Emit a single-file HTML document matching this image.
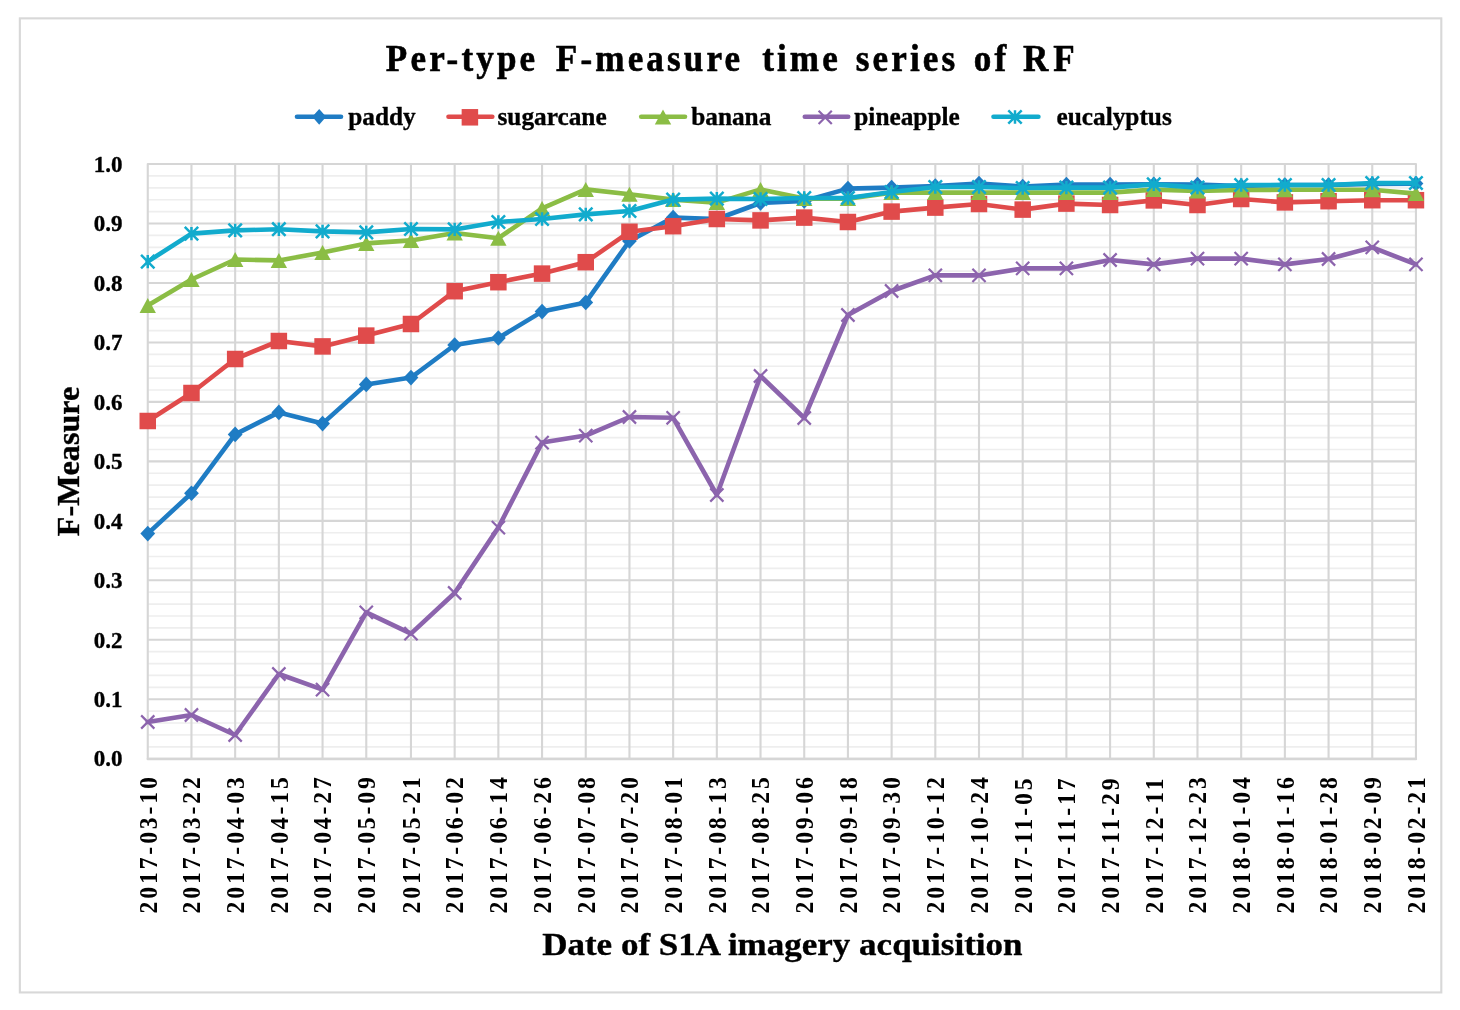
<!DOCTYPE html>
<html><head><meta charset="utf-8"><title>Per-type F-measure time series of RF</title>
<style>
html,body{margin:0;padding:0;background:#fff;}
body{width:1460px;height:1010px;overflow:hidden;}
svg{display:block;filter:blur(0.45px);}
text{font-family:"Liberation Serif",serif;font-weight:bold;fill:#000;stroke:#000;stroke-width:0.35px;stroke-linejoin:round;}
text.tt{stroke-width:0.55px;}
text.xl{stroke-width:0;stroke:none;}

</style></head><body>
<svg width="1460" height="1010" viewBox="0 0 1460 1010">
<rect x="0" y="0" width="1460" height="1010" fill="#fff"/>
<rect x="19.85" y="18.35" width="1421.45" height="974.1" fill="#fff" stroke="#d8d8d8" stroke-width="2.1"/>
<path d="M147.76 746.81H1415.96M147.76 734.91H1415.96M147.76 723.02H1415.96M147.76 711.13H1415.96M147.76 687.34H1415.96M147.76 675.45H1415.96M147.76 663.56H1415.96M147.76 651.66H1415.96M147.76 627.88H1415.96M147.76 615.98H1415.96M147.76 604.09H1415.96M147.76 592.2H1415.96M147.76 568.41H1415.96M147.76 556.52H1415.96M147.76 544.63H1415.96M147.76 532.73H1415.96M147.76 508.95H1415.96M147.76 497.05H1415.96M147.76 485.16H1415.96M147.76 473.27H1415.96M147.76 449.48H1415.96M147.76 437.59H1415.96M147.76 425.7H1415.96M147.76 413.8H1415.96M147.76 390.02H1415.96M147.76 378.12H1415.96M147.76 366.23H1415.96M147.76 354.34H1415.96M147.76 330.55H1415.96M147.76 318.66H1415.96M147.76 306.77H1415.96M147.76 294.87H1415.96M147.76 271.09H1415.96M147.76 259.19H1415.96M147.76 247.3H1415.96M147.76 235.41H1415.96M147.76 211.62H1415.96M147.76 199.73H1415.96M147.76 187.84H1415.96M147.76 175.94H1415.96" stroke="#eeeeee" stroke-width="1.7" fill="none"/>
<path d="M147.76 758.7H1415.96M147.76 699.24H1415.96M147.76 639.77H1415.96M147.76 580.31H1415.96M147.76 520.84H1415.96M147.76 461.38H1415.96M147.76 401.91H1415.96M147.76 342.44H1415.96M147.76 282.98H1415.96M147.76 223.51H1415.96M147.76 164.05H1415.96M147.76 164.05V758.7M191.46 164.05V758.7M235.16 164.05V758.7M278.86 164.05V758.7M322.56 164.05V758.7M366.26 164.05V758.7M410.97 164.05V758.7M454.67 164.05V758.7M498.36 164.05V758.7M542.06 164.05V758.7M585.75 164.05V758.7M629.45 164.05V758.7M673.14 164.05V758.7M716.84 164.05V758.7M760.53 164.05V758.7M804.23 164.05V758.7M847.92 164.05V758.7M891.62 164.05V758.7M935.31 164.05V758.7M979 164.05V758.7M1022.7 164.05V758.7M1066.39 164.05V758.7M1110.09 164.05V758.7M1153.79 164.05V758.7M1197.48 164.05V758.7M1241.18 164.05V758.7M1284.87 164.05V758.7M1328.57 164.05V758.7M1372.26 164.05V758.7M1415.95 164.05V758.7" stroke="#d6d6d6" stroke-width="2.1" fill="none" stroke-linecap="round"/>
<path d="M147.76 758.95H1415.96" stroke="#d6d6d6" stroke-width="2.4" stroke-linecap="round" fill="none"/>
<polyline points="147.76,533.6 191.46,493.2 235.16,434.4 278.86,412.4 322.56,423.6 366.26,384.4 410.97,377.6 454.67,345 498.36,338 542.06,311.6 585.75,302.4 629.45,241 673.14,217.6 716.84,219 760.53,203 804.23,201 847.92,188.6 891.62,187.6 935.31,186 979,183.6 1022.7,186.6 1066.39,184.6 1110.09,184.6 1153.79,184.4 1197.48,184.6 1241.18,186 1284.87,185 1328.57,185 1372.26,184 1415.95,183.6" fill="none" stroke="#1f7cc4" stroke-width="4.6" stroke-linejoin="round" stroke-linecap="round"/>
<path d="M147.76 525.8L155.16 533.6L147.76 541.4L140.36 533.6Z" fill="#1f7cc4"/><path d="M191.46 485.4L198.86 493.2L191.46 501L184.06 493.2Z" fill="#1f7cc4"/><path d="M235.16 426.6L242.56 434.4L235.16 442.2L227.76 434.4Z" fill="#1f7cc4"/><path d="M278.86 404.6L286.26 412.4L278.86 420.2L271.46 412.4Z" fill="#1f7cc4"/><path d="M322.56 415.8L329.96 423.6L322.56 431.4L315.16 423.6Z" fill="#1f7cc4"/><path d="M366.26 376.6L373.66 384.4L366.26 392.2L358.86 384.4Z" fill="#1f7cc4"/><path d="M410.97 369.8L418.37 377.6L410.97 385.4L403.57 377.6Z" fill="#1f7cc4"/><path d="M454.67 337.2L462.06 345L454.67 352.8L447.27 345Z" fill="#1f7cc4"/><path d="M498.36 330.2L505.76 338L498.36 345.8L490.96 338Z" fill="#1f7cc4"/><path d="M542.06 303.8L549.46 311.6L542.06 319.4L534.66 311.6Z" fill="#1f7cc4"/><path d="M585.75 294.6L593.15 302.4L585.75 310.2L578.35 302.4Z" fill="#1f7cc4"/><path d="M629.45 233.2L636.85 241L629.45 248.8L622.05 241Z" fill="#1f7cc4"/><path d="M673.14 209.8L680.54 217.6L673.14 225.4L665.74 217.6Z" fill="#1f7cc4"/><path d="M716.84 211.2L724.24 219L716.84 226.8L709.44 219Z" fill="#1f7cc4"/><path d="M760.53 195.2L767.93 203L760.53 210.8L753.13 203Z" fill="#1f7cc4"/><path d="M804.23 193.2L811.62 201L804.23 208.8L796.83 201Z" fill="#1f7cc4"/><path d="M847.92 180.8L855.32 188.6L847.92 196.4L840.52 188.6Z" fill="#1f7cc4"/><path d="M891.62 179.8L899.01 187.6L891.62 195.4L884.22 187.6Z" fill="#1f7cc4"/><path d="M935.31 178.2L942.71 186L935.31 193.8L927.91 186Z" fill="#1f7cc4"/><path d="M979 175.8L986.4 183.6L979 191.4L971.61 183.6Z" fill="#1f7cc4"/><path d="M1022.7 178.8L1030.1 186.6L1022.7 194.4L1015.3 186.6Z" fill="#1f7cc4"/><path d="M1066.39 176.8L1073.8 184.6L1066.39 192.4L1058.99 184.6Z" fill="#1f7cc4"/><path d="M1110.09 176.8L1117.49 184.6L1110.09 192.4L1102.69 184.6Z" fill="#1f7cc4"/><path d="M1153.79 176.6L1161.19 184.4L1153.79 192.2L1146.38 184.4Z" fill="#1f7cc4"/><path d="M1197.48 176.8L1204.88 184.6L1197.48 192.4L1190.08 184.6Z" fill="#1f7cc4"/><path d="M1241.18 178.2L1248.58 186L1241.18 193.8L1233.78 186Z" fill="#1f7cc4"/><path d="M1284.87 177.2L1292.27 185L1284.87 192.8L1277.47 185Z" fill="#1f7cc4"/><path d="M1328.57 177.2L1335.97 185L1328.57 192.8L1321.16 185Z" fill="#1f7cc4"/><path d="M1372.26 176.2L1379.66 184L1372.26 191.8L1364.86 184Z" fill="#1f7cc4"/><path d="M1415.95 175.8L1423.36 183.6L1415.95 191.4L1408.55 183.6Z" fill="#1f7cc4"/>
<polyline points="147.76,421 191.46,393 235.16,359 278.86,341 322.56,346.4 366.26,335.6 410.97,324 454.67,291.2 498.36,282.2 542.06,273.6 585.75,262.2 629.45,231.8 673.14,226.2 716.84,219 760.53,220.4 804.23,217.6 847.92,222 891.62,211.6 935.31,207.6 979,204 1022.7,209.6 1066.39,203.6 1110.09,205 1153.79,200.4 1197.48,205 1241.18,199 1284.87,202.4 1328.57,201.2 1372.26,200.2 1415.95,200.2" fill="none" stroke="#e04b4b" stroke-width="4.6" stroke-linejoin="round" stroke-linecap="round"/>
<rect x="139.51" y="412.75" width="16.5" height="16.5" fill="#e04b4b"/><rect x="183.21" y="384.75" width="16.5" height="16.5" fill="#e04b4b"/><rect x="226.91" y="350.75" width="16.5" height="16.5" fill="#e04b4b"/><rect x="270.61" y="332.75" width="16.5" height="16.5" fill="#e04b4b"/><rect x="314.31" y="338.15" width="16.5" height="16.5" fill="#e04b4b"/><rect x="358.01" y="327.35" width="16.5" height="16.5" fill="#e04b4b"/><rect x="402.72" y="315.75" width="16.5" height="16.5" fill="#e04b4b"/><rect x="446.42" y="282.95" width="16.5" height="16.5" fill="#e04b4b"/><rect x="490.11" y="273.95" width="16.5" height="16.5" fill="#e04b4b"/><rect x="533.81" y="265.35" width="16.5" height="16.5" fill="#e04b4b"/><rect x="577.5" y="253.95" width="16.5" height="16.5" fill="#e04b4b"/><rect x="621.2" y="223.55" width="16.5" height="16.5" fill="#e04b4b"/><rect x="664.89" y="217.95" width="16.5" height="16.5" fill="#e04b4b"/><rect x="708.59" y="210.75" width="16.5" height="16.5" fill="#e04b4b"/><rect x="752.28" y="212.15" width="16.5" height="16.5" fill="#e04b4b"/><rect x="795.98" y="209.35" width="16.5" height="16.5" fill="#e04b4b"/><rect x="839.67" y="213.75" width="16.5" height="16.5" fill="#e04b4b"/><rect x="883.37" y="203.35" width="16.5" height="16.5" fill="#e04b4b"/><rect x="927.06" y="199.35" width="16.5" height="16.5" fill="#e04b4b"/><rect x="970.75" y="195.75" width="16.5" height="16.5" fill="#e04b4b"/><rect x="1014.45" y="201.35" width="16.5" height="16.5" fill="#e04b4b"/><rect x="1058.14" y="195.35" width="16.5" height="16.5" fill="#e04b4b"/><rect x="1101.84" y="196.75" width="16.5" height="16.5" fill="#e04b4b"/><rect x="1145.54" y="192.15" width="16.5" height="16.5" fill="#e04b4b"/><rect x="1189.23" y="196.75" width="16.5" height="16.5" fill="#e04b4b"/><rect x="1232.93" y="190.75" width="16.5" height="16.5" fill="#e04b4b"/><rect x="1276.62" y="194.15" width="16.5" height="16.5" fill="#e04b4b"/><rect x="1320.32" y="192.95" width="16.5" height="16.5" fill="#e04b4b"/><rect x="1364.01" y="191.95" width="16.5" height="16.5" fill="#e04b4b"/><rect x="1407.7" y="191.95" width="16.5" height="16.5" fill="#e04b4b"/>
<polyline points="147.76,305.5 191.46,279.5 235.16,259.5 278.86,260.4 322.56,252.6 366.26,243.4 410.97,240.4 454.67,233 498.36,238.2 542.06,208.4 585.75,189.4 629.45,194.2 673.14,199.6 716.84,202.6 760.53,189.4 804.23,198.6 847.92,198.6 891.62,192.6 935.31,192.6 979,192.6 1022.7,192.6 1066.39,192.6 1110.09,192.6 1153.79,189.6 1197.48,191 1241.18,190 1284.87,189.8 1328.57,189.8 1372.26,189.8 1415.95,193.6" fill="none" stroke="#8bbd45" stroke-width="4.6" stroke-linejoin="round" stroke-linecap="round"/>
<path d="M147.76 298L155.96 313L139.56 313Z" fill="#8bbd45"/><path d="M191.46 272L199.66 287L183.26 287Z" fill="#8bbd45"/><path d="M235.16 252L243.36 267L226.96 267Z" fill="#8bbd45"/><path d="M278.86 252.9L287.06 267.9L270.66 267.9Z" fill="#8bbd45"/><path d="M322.56 245.1L330.76 260.1L314.36 260.1Z" fill="#8bbd45"/><path d="M366.26 235.9L374.46 250.9L358.06 250.9Z" fill="#8bbd45"/><path d="M410.97 232.9L419.17 247.9L402.77 247.9Z" fill="#8bbd45"/><path d="M454.67 225.5L462.87 240.5L446.47 240.5Z" fill="#8bbd45"/><path d="M498.36 230.7L506.56 245.7L490.16 245.7Z" fill="#8bbd45"/><path d="M542.06 200.9L550.26 215.9L533.86 215.9Z" fill="#8bbd45"/><path d="M585.75 181.9L593.95 196.9L577.55 196.9Z" fill="#8bbd45"/><path d="M629.45 186.7L637.65 201.7L621.25 201.7Z" fill="#8bbd45"/><path d="M673.14 192.1L681.34 207.1L664.94 207.1Z" fill="#8bbd45"/><path d="M716.84 195.1L725.04 210.1L708.63 210.1Z" fill="#8bbd45"/><path d="M760.53 181.9L768.73 196.9L752.33 196.9Z" fill="#8bbd45"/><path d="M804.23 191.1L812.43 206.1L796.02 206.1Z" fill="#8bbd45"/><path d="M847.92 191.1L856.12 206.1L839.72 206.1Z" fill="#8bbd45"/><path d="M891.62 185.1L899.82 200.1L883.41 200.1Z" fill="#8bbd45"/><path d="M935.31 185.1L943.51 200.1L927.11 200.1Z" fill="#8bbd45"/><path d="M979 185.1L987.21 200.1L970.8 200.1Z" fill="#8bbd45"/><path d="M1022.7 185.1L1030.9 200.1L1014.5 200.1Z" fill="#8bbd45"/><path d="M1066.39 185.1L1074.6 200.1L1058.19 200.1Z" fill="#8bbd45"/><path d="M1110.09 185.1L1118.29 200.1L1101.89 200.1Z" fill="#8bbd45"/><path d="M1153.79 182.1L1161.99 197.1L1145.59 197.1Z" fill="#8bbd45"/><path d="M1197.48 183.5L1205.68 198.5L1189.28 198.5Z" fill="#8bbd45"/><path d="M1241.18 182.5L1249.38 197.5L1232.98 197.5Z" fill="#8bbd45"/><path d="M1284.87 182.3L1293.07 197.3L1276.67 197.3Z" fill="#8bbd45"/><path d="M1328.57 182.3L1336.77 197.3L1320.37 197.3Z" fill="#8bbd45"/><path d="M1372.26 182.3L1380.46 197.3L1364.06 197.3Z" fill="#8bbd45"/><path d="M1415.95 186.1L1424.15 201.1L1407.75 201.1Z" fill="#8bbd45"/>
<polyline points="147.76,722 191.46,715 235.16,735 278.86,674 322.56,689.6 366.26,612.4 410.97,633.6 454.67,593 498.36,527.6 542.06,442.6 585.75,435.6 629.45,417 673.14,417.8 716.84,495 760.53,376 804.23,418 847.92,315 891.62,291 935.31,275.4 979,275.4 1022.7,268.4 1066.39,268.4 1110.09,260 1153.79,264.4 1197.48,258.6 1241.18,258.6 1284.87,264.4 1328.57,259 1372.26,247.4 1415.95,264.4" fill="none" stroke="#8c64ad" stroke-width="4.6" stroke-linejoin="round" stroke-linecap="round"/>
<path d="M141.16 715.4L154.36 728.6M141.16 728.6L154.36 715.4" stroke="#8c64ad" stroke-width="2.2" fill="none"/><path d="M184.86 708.4L198.06 721.6M184.86 721.6L198.06 708.4" stroke="#8c64ad" stroke-width="2.2" fill="none"/><path d="M228.56 728.4L241.76 741.6M228.56 741.6L241.76 728.4" stroke="#8c64ad" stroke-width="2.2" fill="none"/><path d="M272.26 667.4L285.46 680.6M272.26 680.6L285.46 667.4" stroke="#8c64ad" stroke-width="2.2" fill="none"/><path d="M315.96 683L329.16 696.2M315.96 696.2L329.16 683" stroke="#8c64ad" stroke-width="2.2" fill="none"/><path d="M359.66 605.8L372.86 619M359.66 619L372.86 605.8" stroke="#8c64ad" stroke-width="2.2" fill="none"/><path d="M404.37 627L417.57 640.2M404.37 640.2L417.57 627" stroke="#8c64ad" stroke-width="2.2" fill="none"/><path d="M448.06 586.4L461.27 599.6M448.06 599.6L461.27 586.4" stroke="#8c64ad" stroke-width="2.2" fill="none"/><path d="M491.76 521L504.96 534.2M491.76 534.2L504.96 521" stroke="#8c64ad" stroke-width="2.2" fill="none"/><path d="M535.46 436L548.66 449.2M535.46 449.2L548.66 436" stroke="#8c64ad" stroke-width="2.2" fill="none"/><path d="M579.15 429L592.35 442.2M579.15 442.2L592.35 429" stroke="#8c64ad" stroke-width="2.2" fill="none"/><path d="M622.85 410.4L636.05 423.6M622.85 423.6L636.05 410.4" stroke="#8c64ad" stroke-width="2.2" fill="none"/><path d="M666.54 411.2L679.74 424.4M666.54 424.4L679.74 411.2" stroke="#8c64ad" stroke-width="2.2" fill="none"/><path d="M710.24 488.4L723.44 501.6M710.24 501.6L723.44 488.4" stroke="#8c64ad" stroke-width="2.2" fill="none"/><path d="M753.93 369.4L767.13 382.6M753.93 382.6L767.13 369.4" stroke="#8c64ad" stroke-width="2.2" fill="none"/><path d="M797.62 411.4L810.83 424.6M797.62 424.6L810.83 411.4" stroke="#8c64ad" stroke-width="2.2" fill="none"/><path d="M841.32 308.4L854.52 321.6M841.32 321.6L854.52 308.4" stroke="#8c64ad" stroke-width="2.2" fill="none"/><path d="M885.01 284.4L898.22 297.6M885.01 297.6L898.22 284.4" stroke="#8c64ad" stroke-width="2.2" fill="none"/><path d="M928.71 268.8L941.91 282M928.71 282L941.91 268.8" stroke="#8c64ad" stroke-width="2.2" fill="none"/><path d="M972.4 268.8L985.61 282M972.4 282L985.61 268.8" stroke="#8c64ad" stroke-width="2.2" fill="none"/><path d="M1016.1 261.8L1029.3 275M1016.1 275L1029.3 261.8" stroke="#8c64ad" stroke-width="2.2" fill="none"/><path d="M1059.8 261.8L1072.99 275M1059.8 275L1072.99 261.8" stroke="#8c64ad" stroke-width="2.2" fill="none"/><path d="M1103.49 253.4L1116.69 266.6M1103.49 266.6L1116.69 253.4" stroke="#8c64ad" stroke-width="2.2" fill="none"/><path d="M1147.19 257.8L1160.38 271M1147.19 271L1160.38 257.8" stroke="#8c64ad" stroke-width="2.2" fill="none"/><path d="M1190.88 252L1204.08 265.2M1190.88 265.2L1204.08 252" stroke="#8c64ad" stroke-width="2.2" fill="none"/><path d="M1234.58 252L1247.78 265.2M1234.58 265.2L1247.78 252" stroke="#8c64ad" stroke-width="2.2" fill="none"/><path d="M1278.27 257.8L1291.47 271M1278.27 271L1291.47 257.8" stroke="#8c64ad" stroke-width="2.2" fill="none"/><path d="M1321.97 252.4L1335.16 265.6M1321.97 265.6L1335.16 252.4" stroke="#8c64ad" stroke-width="2.2" fill="none"/><path d="M1365.66 240.8L1378.86 254M1365.66 254L1378.86 240.8" stroke="#8c64ad" stroke-width="2.2" fill="none"/><path d="M1409.36 257.8L1422.55 271M1409.36 271L1422.55 257.8" stroke="#8c64ad" stroke-width="2.2" fill="none"/>
<polyline points="147.76,261.6 191.46,233.6 235.16,230.4 278.86,229.2 322.56,231.4 366.26,232.4 410.97,229 454.67,229.4 498.36,222 542.06,219 585.75,214.4 629.45,211 673.14,199.6 716.84,198.6 760.53,199 804.23,198 847.92,198 891.62,192 935.31,187 979,187 1022.7,188 1066.39,187.6 1110.09,187.6 1153.79,184.4 1197.48,187.6 1241.18,185 1284.87,185 1328.57,185 1372.26,183 1415.95,183" fill="none" stroke="#12abcd" stroke-width="4.6" stroke-linejoin="round" stroke-linecap="round"/>
<path d="M141.06 254.9L154.46 268.3M141.06 268.3L154.46 254.9M147.76 254.9L147.76 268.3" stroke="#12abcd" stroke-width="2.5" fill="none"/><path d="M184.76 226.9L198.16 240.3M184.76 240.3L198.16 226.9M191.46 226.9L191.46 240.3" stroke="#12abcd" stroke-width="2.5" fill="none"/><path d="M228.46 223.7L241.86 237.1M228.46 237.1L241.86 223.7M235.16 223.7L235.16 237.1" stroke="#12abcd" stroke-width="2.5" fill="none"/><path d="M272.16 222.5L285.56 235.9M272.16 235.9L285.56 222.5M278.86 222.5L278.86 235.9" stroke="#12abcd" stroke-width="2.5" fill="none"/><path d="M315.86 224.7L329.26 238.1M315.86 238.1L329.26 224.7M322.56 224.7L322.56 238.1" stroke="#12abcd" stroke-width="2.5" fill="none"/><path d="M359.56 225.7L372.96 239.1M359.56 239.1L372.96 225.7M366.26 225.7L366.26 239.1" stroke="#12abcd" stroke-width="2.5" fill="none"/><path d="M404.27 222.3L417.67 235.7M404.27 235.7L417.67 222.3M410.97 222.3L410.97 235.7" stroke="#12abcd" stroke-width="2.5" fill="none"/><path d="M447.97 222.7L461.37 236.1M447.97 236.1L461.37 222.7M454.67 222.7L454.67 236.1" stroke="#12abcd" stroke-width="2.5" fill="none"/><path d="M491.66 215.3L505.06 228.7M491.66 228.7L505.06 215.3M498.36 215.3L498.36 228.7" stroke="#12abcd" stroke-width="2.5" fill="none"/><path d="M535.36 212.3L548.76 225.7M535.36 225.7L548.76 212.3M542.06 212.3L542.06 225.7" stroke="#12abcd" stroke-width="2.5" fill="none"/><path d="M579.05 207.7L592.45 221.1M579.05 221.1L592.45 207.7M585.75 207.7L585.75 221.1" stroke="#12abcd" stroke-width="2.5" fill="none"/><path d="M622.75 204.3L636.15 217.7M622.75 217.7L636.15 204.3M629.45 204.3L629.45 217.7" stroke="#12abcd" stroke-width="2.5" fill="none"/><path d="M666.44 192.9L679.84 206.3M666.44 206.3L679.84 192.9M673.14 192.9L673.14 206.3" stroke="#12abcd" stroke-width="2.5" fill="none"/><path d="M710.13 191.9L723.54 205.3M710.13 205.3L723.54 191.9M716.84 191.9L716.84 205.3" stroke="#12abcd" stroke-width="2.5" fill="none"/><path d="M753.83 192.3L767.23 205.7M753.83 205.7L767.23 192.3M760.53 192.3L760.53 205.7" stroke="#12abcd" stroke-width="2.5" fill="none"/><path d="M797.52 191.3L810.93 204.7M797.52 204.7L810.93 191.3M804.23 191.3L804.23 204.7" stroke="#12abcd" stroke-width="2.5" fill="none"/><path d="M841.22 191.3L854.62 204.7M841.22 204.7L854.62 191.3M847.92 191.3L847.92 204.7" stroke="#12abcd" stroke-width="2.5" fill="none"/><path d="M884.91 185.3L898.32 198.7M884.91 198.7L898.32 185.3M891.62 185.3L891.62 198.7" stroke="#12abcd" stroke-width="2.5" fill="none"/><path d="M928.61 180.3L942.01 193.7M928.61 193.7L942.01 180.3M935.31 180.3L935.31 193.7" stroke="#12abcd" stroke-width="2.5" fill="none"/><path d="M972.3 180.3L985.71 193.7M972.3 193.7L985.71 180.3M979 180.3L979 193.7" stroke="#12abcd" stroke-width="2.5" fill="none"/><path d="M1016 181.3L1029.4 194.7M1016 194.7L1029.4 181.3M1022.7 181.3L1022.7 194.7" stroke="#12abcd" stroke-width="2.5" fill="none"/><path d="M1059.69 180.9L1073.1 194.3M1059.69 194.3L1073.1 180.9M1066.39 180.9L1066.39 194.3" stroke="#12abcd" stroke-width="2.5" fill="none"/><path d="M1103.39 180.9L1116.79 194.3M1103.39 194.3L1116.79 180.9M1110.09 180.9L1110.09 194.3" stroke="#12abcd" stroke-width="2.5" fill="none"/><path d="M1147.09 177.7L1160.49 191.1M1147.09 191.1L1160.49 177.7M1153.79 177.7L1153.79 191.1" stroke="#12abcd" stroke-width="2.5" fill="none"/><path d="M1190.78 180.9L1204.18 194.3M1190.78 194.3L1204.18 180.9M1197.48 180.9L1197.48 194.3" stroke="#12abcd" stroke-width="2.5" fill="none"/><path d="M1234.48 178.3L1247.88 191.7M1234.48 191.7L1247.88 178.3M1241.18 178.3L1241.18 191.7" stroke="#12abcd" stroke-width="2.5" fill="none"/><path d="M1278.17 178.3L1291.57 191.7M1278.17 191.7L1291.57 178.3M1284.87 178.3L1284.87 191.7" stroke="#12abcd" stroke-width="2.5" fill="none"/><path d="M1321.87 178.3L1335.27 191.7M1321.87 191.7L1335.27 178.3M1328.57 178.3L1328.57 191.7" stroke="#12abcd" stroke-width="2.5" fill="none"/><path d="M1365.56 176.3L1378.96 189.7M1365.56 189.7L1378.96 176.3M1372.26 176.3L1372.26 189.7" stroke="#12abcd" stroke-width="2.5" fill="none"/><path d="M1409.25 176.3L1422.65 189.7M1409.25 189.7L1422.65 176.3M1415.95 176.3L1415.95 189.7" stroke="#12abcd" stroke-width="2.5" fill="none"/>
<text transform="translate(385.85 70.8) scale(1.012 1.10)" font-size="34.7" letter-spacing="3.1" class="tt">Per-type</text><text transform="translate(555.85 70.8) scale(1.012 1.10)" font-size="34.7" letter-spacing="3.1" class="tt">F-measure</text><text transform="translate(762.15 70.8) scale(1.012 1.10)" font-size="34.7" letter-spacing="3.1" class="tt">time</text><text transform="translate(855.7 70.8) scale(1.012 1.10)" font-size="34.7" letter-spacing="3.1" class="tt">series</text><text transform="translate(973.8 70.8) scale(1.012 1.10)" font-size="34.7" letter-spacing="3.1" class="tt">of</text><text transform="translate(1022.95 70.8) scale(1.012 1.10)" font-size="34.7" letter-spacing="5.0" class="tt">RF</text>
<line x1="297" y1="116.8" x2="341" y2="116.8" stroke="#1f7cc4" stroke-width="4.6" stroke-linecap="round"/><path d="M319.2 108.9L326.1 116.8L319.2 124.7L312.3 116.8Z" fill="#1f7cc4"/><line x1="448.5" y1="116.8" x2="492.3" y2="116.8" stroke="#e04b4b" stroke-width="4.6" stroke-linecap="round"/><rect x="461.65" y="109.05" width="16.5" height="16.5" fill="#e04b4b"/><line x1="641.2" y1="116.8" x2="685" y2="116.8" stroke="#8bbd45" stroke-width="4.6" stroke-linecap="round"/><path d="M663 109.5L671.2 124.5L654.8 124.5Z" fill="#8bbd45"/><line x1="804.8" y1="116.8" x2="848.2" y2="116.8" stroke="#8c64ad" stroke-width="4.6" stroke-linecap="round"/><path d="M818.6 110.8L831.8 124M818.6 124L831.8 110.8" stroke="#8c64ad" stroke-width="2.2" fill="none"/><line x1="993.5" y1="116.8" x2="1038.4" y2="116.8" stroke="#12abcd" stroke-width="4.6" stroke-linecap="round"/><path d="M1008.3 110.3L1021.7 123.7M1008.3 123.7L1021.7 110.3M1015 110.3L1015 123.7" stroke="#12abcd" stroke-width="2.5" fill="none"/><text x="348.2" y="125.0" font-size="25.3" id="l1">paddy</text><text x="497.5" y="125.0" font-size="25.3" id="l2">sugarcane</text><text x="691.2" y="125.0" font-size="25.3" id="l3">banana</text><text x="854.3" y="125.0" font-size="25.3" id="l4">pineapple</text><text x="1056.5" y="125.0" font-size="25.3" id="l5">eucalyptus</text>
<text x="122.6" y="766.45" font-size="23" text-anchor="end" class="yl">0.0</text><text x="122.6" y="706.99" font-size="23" text-anchor="end" class="yl">0.1</text><text x="122.6" y="647.52" font-size="23" text-anchor="end" class="yl">0.2</text><text x="122.6" y="588.06" font-size="23" text-anchor="end" class="yl">0.3</text><text x="122.6" y="528.59" font-size="23" text-anchor="end" class="yl">0.4</text><text x="122.6" y="469.12" font-size="23" text-anchor="end" class="yl">0.5</text><text x="122.6" y="409.66" font-size="23" text-anchor="end" class="yl">0.6</text><text x="122.6" y="350.19" font-size="23" text-anchor="end" class="yl">0.7</text><text x="122.6" y="290.73" font-size="23" text-anchor="end" class="yl">0.8</text><text x="122.6" y="231.26" font-size="23" text-anchor="end" class="yl">0.9</text><text x="122.6" y="171.8" font-size="23" text-anchor="end" class="yl">1.0</text>
<text transform="translate(156.56 913.5) rotate(-90) scale(0.95 1)" font-size="24.9" letter-spacing="3.05" class="xl">2017-03-10</text><text transform="translate(200.26 913.5) rotate(-90) scale(0.95 1)" font-size="24.9" letter-spacing="3.05" class="xl">2017-03-22</text><text transform="translate(243.96 913.5) rotate(-90) scale(0.95 1)" font-size="24.9" letter-spacing="3.05" class="xl">2017-04-03</text><text transform="translate(287.66 913.5) rotate(-90) scale(0.95 1)" font-size="24.9" letter-spacing="3.05" class="xl">2017-04-15</text><text transform="translate(331.36 913.5) rotate(-90) scale(0.95 1)" font-size="24.9" letter-spacing="3.05" class="xl">2017-04-27</text><text transform="translate(375.06 913.5) rotate(-90) scale(0.95 1)" font-size="24.9" letter-spacing="3.05" class="xl">2017-05-09</text><text transform="translate(419.77 913.5) rotate(-90) scale(0.95 1)" font-size="24.9" letter-spacing="3.05" class="xl">2017-05-21</text><text transform="translate(463.47 913.5) rotate(-90) scale(0.95 1)" font-size="24.9" letter-spacing="3.05" class="xl">2017-06-02</text><text transform="translate(507.16 913.5) rotate(-90) scale(0.95 1)" font-size="24.9" letter-spacing="3.05" class="xl">2017-06-14</text><text transform="translate(550.86 913.5) rotate(-90) scale(0.95 1)" font-size="24.9" letter-spacing="3.05" class="xl">2017-06-26</text><text transform="translate(594.55 913.5) rotate(-90) scale(0.95 1)" font-size="24.9" letter-spacing="3.05" class="xl">2017-07-08</text><text transform="translate(638.25 913.5) rotate(-90) scale(0.95 1)" font-size="24.9" letter-spacing="3.05" class="xl">2017-07-20</text><text transform="translate(681.94 913.5) rotate(-90) scale(0.95 1)" font-size="24.9" letter-spacing="3.05" class="xl">2017-08-01</text><text transform="translate(725.63 913.5) rotate(-90) scale(0.95 1)" font-size="24.9" letter-spacing="3.05" class="xl">2017-08-13</text><text transform="translate(769.33 913.5) rotate(-90) scale(0.95 1)" font-size="24.9" letter-spacing="3.05" class="xl">2017-08-25</text><text transform="translate(813.02 913.5) rotate(-90) scale(0.95 1)" font-size="24.9" letter-spacing="3.05" class="xl">2017-09-06</text><text transform="translate(856.72 913.5) rotate(-90) scale(0.95 1)" font-size="24.9" letter-spacing="3.05" class="xl">2017-09-18</text><text transform="translate(900.41 913.5) rotate(-90) scale(0.95 1)" font-size="24.9" letter-spacing="3.05" class="xl">2017-09-30</text><text transform="translate(944.11 913.5) rotate(-90) scale(0.95 1)" font-size="24.9" letter-spacing="3.05" class="xl">2017-10-12</text><text transform="translate(987.8 913.5) rotate(-90) scale(0.95 1)" font-size="24.9" letter-spacing="3.05" class="xl">2017-10-24</text><text transform="translate(1031.5 913.5) rotate(-90) scale(0.95 1)" font-size="24.9" letter-spacing="3.05" class="xl">2017-11-05</text><text transform="translate(1075.19 913.5) rotate(-90) scale(0.95 1)" font-size="24.9" letter-spacing="3.05" class="xl">2017-11-17</text><text transform="translate(1118.89 913.5) rotate(-90) scale(0.95 1)" font-size="24.9" letter-spacing="3.05" class="xl">2017-11-29</text><text transform="translate(1162.59 913.5) rotate(-90) scale(0.95 1)" font-size="24.9" letter-spacing="3.05" class="xl">2017-12-11</text><text transform="translate(1206.28 913.5) rotate(-90) scale(0.95 1)" font-size="24.9" letter-spacing="3.05" class="xl">2017-12-23</text><text transform="translate(1249.98 913.5) rotate(-90) scale(0.95 1)" font-size="24.9" letter-spacing="3.05" class="xl">2018-01-04</text><text transform="translate(1293.67 913.5) rotate(-90) scale(0.95 1)" font-size="24.9" letter-spacing="3.05" class="xl">2018-01-16</text><text transform="translate(1337.37 913.5) rotate(-90) scale(0.95 1)" font-size="24.9" letter-spacing="3.05" class="xl">2018-01-28</text><text transform="translate(1381.06 913.5) rotate(-90) scale(0.95 1)" font-size="24.9" letter-spacing="3.05" class="xl">2018-02-09</text><text transform="translate(1424.75 913.5) rotate(-90) scale(0.95 1)" font-size="24.9" letter-spacing="3.05" class="xl">2018-02-21</text>
<text transform="translate(78.8 536.2) rotate(-90)" font-size="32.2" id="ytitle">F-Measure</text>
<text x="542.2" y="954.7" font-size="31.5" textLength="480.3" lengthAdjust="spacingAndGlyphs" id="xtitle">Date of S1A imagery acquisition</text>
</svg></body></html>
